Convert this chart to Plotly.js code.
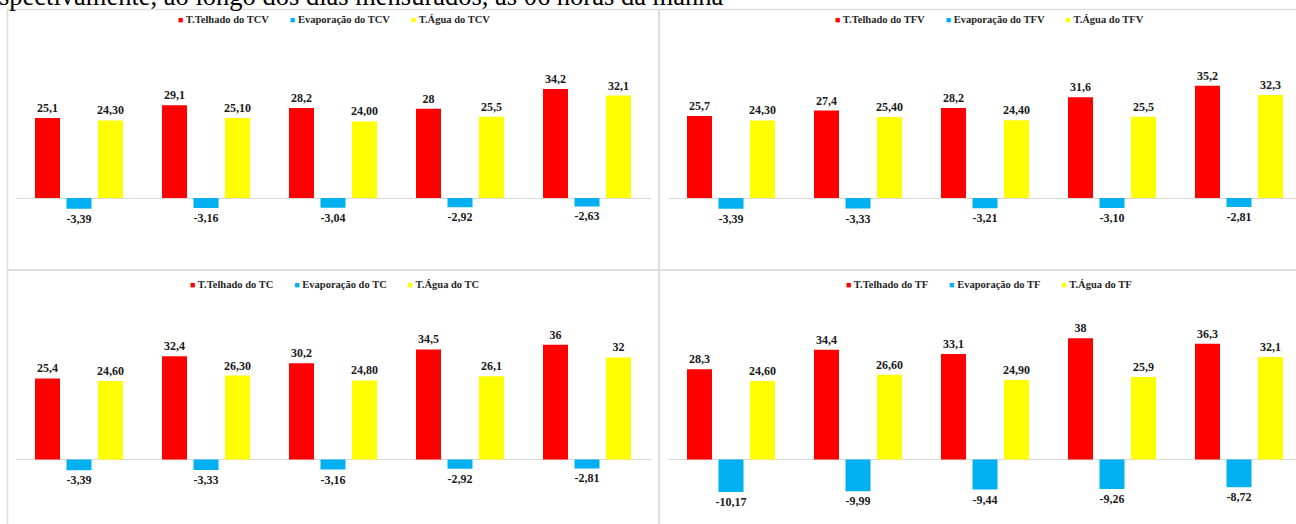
<!DOCTYPE html>
<html>
<head>
<meta charset="utf-8">
<script src="https://cdn.plot.ly/plotly-3.0.1.min.js"></script>
<style>
  html, body { margin: 0; padding: 0; background: #fff; }
  #chart { width: 1296px; height: 524px; }
</style>
</head>
<body>
<div id="chart"></div>
<script>
// Five measurement days per panel (no axis labels shown)
const dias = ['1', '2', '3', '4', '5'];

// Panel names and legend labels
const paineis = ['TCV', 'TFV', 'TC', 'TF'];
const nomesSeries = ['T.Telhado do ', 'Evaporação do ', 'T.Água do '];
const cores = ['#FF0000', '#00B0F0', '#FFFF00'];

// Values as printed on the bars (decimal comma)
const telhadoTCV = ['25,1', '29,1', '28,2', '28', '34,2'];
const evapTCV    = ['-3,39', '-3,16', '-3,04', '-2,92', '-2,63'];
const aguaTCV    = ['24,30', '25,10', '24,00', '25,5', '32,1'];

const telhadoTFV = ['25,7', '27,4', '28,2', '31,6', '35,2'];
const evapTFV    = ['-3,39', '-3,33', '-3,21', '-3,10', '-2,81'];
const aguaTFV    = ['24,30', '25,40', '24,40', '25,5', '32,3'];

const telhadoTC  = ['25,4', '32,4', '30,2', '34,5', '36'];
const evapTC     = ['-3,39', '-3,33', '-3,16', '-2,92', '-2,81'];
const aguaTC     = ['24,60', '26,30', '24,80', '26,1', '32'];

const telhadoTF  = ['28,3', '34,4', '33,1', '38', '36,3'];
const evapTF     = ['-10,17', '-9,99', '-9,44', '-9,26', '-8,72'];
const aguaTF     = ['24,60', '26,60', '24,90', '25,9', '32,1'];

const series = [
  [telhadoTCV, evapTCV, aguaTCV],
  [telhadoTFV, evapTFV, aguaTFV],
  [telhadoTC, evapTC, aguaTC],
  [telhadoTF, evapTF, aguaTF]
];

const W = 1296, H = 524;
const SERIF = '"Liberation Serif", "Times New Roman", serif';
const toNum = s => parseFloat(s.replace(',', '.'));

// Pixel geometry of each panel's plotting area
const PX_PER_UNIT = 3.19;
const caixas = [
  { x0: 15.5, x1: 650.5, top: 40, bottom: 262, zero: 198, cx: 334, legY: 20 },
  { x0: 667.5, x1: 1296, top: 40, bottom: 262, zero: 198, cx: 989, legY: 20 },
  { x0: 15.5, x1: 650.5, top: 300, bottom: 520, zero: 459.5, cx: 334, legY: 284 },
  { x0: 667.5, x1: 1296, top: 300, bottom: 520, zero: 459.5, cx: 989, legY: 284 }
];
const CAT_PX = 127;

const traces = [];
const layout = {
  width: W, height: H,
  margin: { l: 0, r: 0, t: 0, b: 0 },
  paper_bgcolor: '#ffffff',
  plot_bgcolor: 'rgba(0,0,0,0)',
  barmode: 'group',
  bargap: 0.256,
  bargroupgap: 0.206,
  showlegend: false,
  annotations: [],
  shapes: []
};

paineis.forEach((painel, p) => {
  const c = caixas[p];
  const sfx = p === 0 ? '' : String(p + 1);
  const xa = 'x' + sfx, ya = 'y' + sfx;

  series[p].forEach((rotulos, s) => {
    traces.push({
      type: 'bar',
      name: nomesSeries[s] + painel,
      x: dias,
      y: rotulos.map(toNum),
      text: rotulos,
      texttemplate: '%{text}',
      textposition: 'outside',
      constraintext: 'none',
      cliponaxis: false,
      textfont: { family: SERIF, size: 12, color: '#1a1a1a', weight: 'bold' },
      marker: { color: cores[s], line: { width: 0 } },
      xaxis: xa, yaxis: ya,
      hoverinfo: 'skip'
    });
  });

  const xr = (c.x1 - c.x0) / CAT_PX;
  layout['xaxis' + sfx] = {
    domain: [c.x0 / W, c.x1 / W],
    type: 'category',
    range: [-0.5, -0.5 + xr],
    showticklabels: false, showgrid: false, zeroline: false, showline: false,
    ticks: '', fixedrange: true,
    anchor: ya
  };
  layout['yaxis' + sfx] = {
    domain: [1 - c.bottom / H, 1 - c.top / H],
    range: [-(c.bottom - c.zero) / PX_PER_UNIT, (c.zero - c.top) / PX_PER_UNIT],
    showticklabels: false, showgrid: false, showline: false,
    zeroline: true, zerolinecolor: '#d9d9d9', zerolinewidth: 1,
    ticks: '', fixedrange: true,
    anchor: xa
  };

  // Legend row drawn as a single line of text with coloured squares
  const gap = '\u00A0'.repeat(8);
  const legenda = nomesSeries.map((n, s) =>
    '<span style="color:' + cores[s] + ';font-size:9px">\u25A0</span> ' + n + painel
  ).join(gap);
  layout.annotations.push({
    xref: 'paper', yref: 'paper',
    x: c.cx / W, y: 1 - c.legY / H,
    xanchor: 'center', yanchor: 'middle',
    text: legenda, showarrow: false,
    font: { family: SERIF, size: 10.5, color: '#262626', weight: 'bold' }
  });
});

// Caption line running along the top edge of the page
layout.annotations.push({
  xref: 'paper', yref: 'paper',
  x: -3 / W, y: 1 - 13 / H,
  xanchor: 'left', yanchor: 'bottom',
  text: 'spectivamente, ao longo dos dias mensurados, às 06 horas da manhã',
  showarrow: false,
  font: { family: SERIF, size: 26.5, color: '#000000' }
});

// Light frame lines separating the four charts
const linha = (x0, y0, x1, y1, w) => ({
  type: 'line', xref: 'paper', yref: 'paper',
  x0: x0 / W, y0: 1 - y0 / H, x1: x1 / W, y1: 1 - y1 / H,
  line: { color: '#dedede', width: w }
});
layout.shapes.push(
  linha(7, 9.5, W, 9.5, 1.5),
  linha(7.5, 9.5, 7.5, H, 1.5),
  linha(659, 9.5, 659, H, 2),
  linha(7, 270, W, 270, 2)
);

Plotly.newPlot('chart', traces, layout, { staticPlot: true, displayModeBar: false });
</script>
</body>
</html>
